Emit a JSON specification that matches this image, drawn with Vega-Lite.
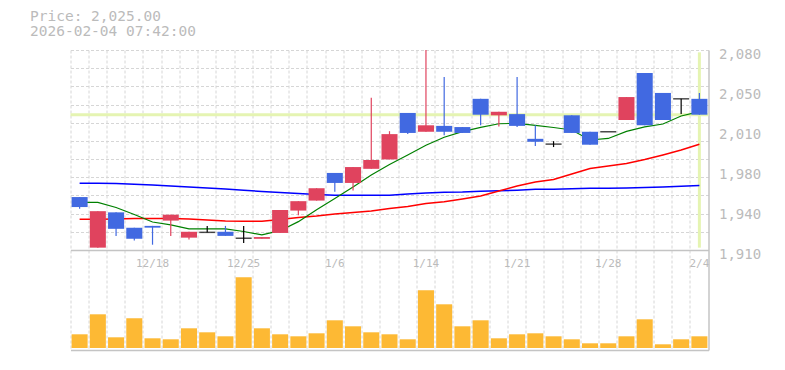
{
  "$schema": "https://vega.github.io/schema/vega-lite/v6.json",
  "width": 638,
  "height": 300,
  "autosize": {"type": "none"},
  "padding": {"left": 70.5, "top": 50, "right": 76.5, "bottom": 20},
  "background": "white",
  "title": {
    "text": ["Price: 2,025.00", "2026-02-04 07:42:00"],
    "anchor": "start",
    "frame": "group",
    "dx": -40.5,
    "dy": 15,
    "offset": 9,
    "baseline": "bottom",
    "lineHeight": 15,
    "font": "DejaVu Sans Mono",
    "fontSize": 14.5,
    "fontWeight": "normal",
    "color": "#bbbbbb"
  },
  "config": {"view": {"stroke": null}},
  "data": {
    "values": [
      {"date": "12/12", "open": 1955, "high": 1955, "low": 1945, "close": 1946.5, "volume": 13700, "ma5": 1950.5, "ma25": 1936.1, "ma75": 1966.7},
      {"date": "12/15", "open": 1912, "high": 1943, "low": 1912, "close": 1943, "volume": 33700, "ma5": 1950.5, "ma25": 1936.1, "ma75": 1966.7},
      {"date": "12/16", "open": 1942, "high": 1942, "low": 1922, "close": 1928, "volume": 10700, "ma5": 1946.1, "ma25": 1936.4, "ma75": 1966.5},
      {"date": "12/17", "open": 1929, "high": 1929, "low": 1918, "close": 1919.5, "volume": 29700, "ma5": 1940.2, "ma25": 1936.8, "ma75": 1965.8},
      {"date": "12/18", "open": 1930.5, "high": 1930.5, "low": 1914.5, "close": 1929, "volume": 9700, "ma5": 1933.8, "ma25": 1936.8, "ma75": 1965.3},
      {"date": "12/19", "open": 1935, "high": 1940, "low": 1922, "close": 1940, "volume": 8700, "ma5": 1931.3, "ma25": 1936.8, "ma75": 1964.4},
      {"date": "12/22", "open": 1920.5, "high": 1925.5, "low": 1919, "close": 1925.5, "volume": 19700, "ma5": 1927.9, "ma25": 1936.4, "ma75": 1963.6},
      {"date": "12/23", "open": 1925, "high": 1930.5, "low": 1925, "close": 1925, "volume": 15700, "ma5": 1927.9, "ma25": 1935.5, "ma75": 1962.7},
      {"date": "12/24", "open": 1925.5, "high": 1930.5, "low": 1922, "close": 1922, "volume": 11700, "ma5": 1927.9, "ma25": 1934.7, "ma75": 1961.9},
      {"date": "12/25", "open": 1920, "high": 1930.5, "low": 1916, "close": 1920, "volume": 70700, "ma5": 1925.7, "ma25": 1934.5, "ma75": 1960.8},
      {"date": "12/26", "open": 1919.5, "high": 1921, "low": 1919.5, "close": 1921, "volume": 19700, "ma5": 1922.8, "ma25": 1934.5, "ma75": 1959.7},
      {"date": "12/29", "open": 1924.5, "high": 1944, "low": 1924.5, "close": 1944, "volume": 13700, "ma5": 1926.4, "ma25": 1935.9, "ma75": 1958.9},
      {"date": "12/30", "open": 1943.5, "high": 1951.5, "low": 1939.5, "close": 1951.5, "volume": 11700, "ma5": 1934.1, "ma25": 1937.6, "ma75": 1958.0},
      {"date": "1/5", "open": 1952, "high": 1962.5, "low": 1952, "close": 1962.5, "volume": 14700, "ma5": 1944.3, "ma25": 1938.9, "ma75": 1957.2},
      {"date": "1/6", "open": 1975.5, "high": 1975.5, "low": 1959.5, "close": 1967, "volume": 27700, "ma5": 1953.8, "ma25": 1940.6, "ma75": 1956.6},
      {"date": "1/7", "open": 1967, "high": 1980.5, "low": 1960.5, "close": 1980.5, "volume": 21700, "ma5": 1963.6, "ma25": 1941.9, "ma75": 1956.5},
      {"date": "1/8", "open": 1979, "high": 2039.5, "low": 1979, "close": 1986.5, "volume": 15700, "ma5": 1973.8, "ma25": 1943.2, "ma75": 1956.5},
      {"date": "1/9", "open": 1987, "high": 2011, "low": 1987, "close": 2008.5, "volume": 13700, "ma5": 1982.7, "ma25": 1945.3, "ma75": 1956.6},
      {"date": "1/13", "open": 2026.5, "high": 2026.5, "low": 2008.5, "close": 2009.5, "volume": 8700, "ma5": 1990.8, "ma25": 1947.0, "ma75": 1957.6},
      {"date": "1/14", "open": 2010.5, "high": 2080, "low": 2010.5, "close": 2016, "volume": 57700, "ma5": 1999.0, "ma25": 1949.5, "ma75": 1958.5},
      {"date": "1/15", "open": 2015.5, "high": 2057, "low": 2007.5, "close": 2010.5, "volume": 43700, "ma5": 2005.8, "ma25": 1951.1, "ma75": 1959.1},
      {"date": "1/16", "open": 2014.5, "high": 2014.5, "low": 2009.5, "close": 2009.5, "volume": 21700, "ma5": 2010.6, "ma25": 1953.4, "ma75": 1959.3},
      {"date": "1/19", "open": 2038.5, "high": 2038.5, "low": 2016, "close": 2025, "volume": 27700, "ma5": 2014.3, "ma25": 1955.9, "ma75": 1959.9},
      {"date": "1/20", "open": 2024.5, "high": 2027.5, "low": 2015, "close": 2027.5, "volume": 9700, "ma5": 2017.3, "ma25": 1960.2, "ma75": 1960.3},
      {"date": "1/21", "open": 2025.5, "high": 2057, "low": 2014.5, "close": 2015.5, "volume": 13700, "ma5": 2017.7, "ma25": 1964.4, "ma75": 1960.8},
      {"date": "1/22", "open": 2004.5, "high": 2016, "low": 1998.5, "close": 2002, "volume": 14700, "ma5": 2016.0, "ma25": 1967.8, "ma75": 1961.6},
      {"date": "1/23", "open": 2000, "high": 2002.5, "low": 1997.5, "close": 2000, "volume": 11700, "ma5": 2014.1, "ma25": 1969.9, "ma75": 1961.6},
      {"date": "1/26", "open": 2024.5, "high": 2024.5, "low": 2009.5, "close": 2009.5, "volume": 8700, "ma5": 2012.0, "ma25": 1974.6, "ma75": 1962.0},
      {"date": "1/27", "open": 2010.5, "high": 2010.5, "low": 1999.5, "close": 1999.5, "volume": 4700, "ma5": 2003.5, "ma25": 1979.3, "ma75": 1962.5},
      {"date": "1/28", "open": 2010.5, "high": 2010.5, "low": 2010.5, "close": 2010.5, "volume": 4700, "ma5": 2004.8, "ma25": 1981.4, "ma75": 1962.5},
      {"date": "1/29", "open": 2020.5, "high": 2040, "low": 2020.5, "close": 2040, "volume": 11700, "ma5": 2010.8, "ma25": 1983.5, "ma75": 1962.7},
      {"date": "1/30", "open": 2060.5, "high": 2060.5, "low": 2016, "close": 2016, "volume": 28700, "ma5": 2014.6, "ma25": 1986.9, "ma75": 1963.1},
      {"date": "2/2", "open": 2043.5, "high": 2043.5, "low": 2020.5, "close": 2020.5, "volume": 3700, "ma5": 2017.1, "ma25": 1990.8, "ma75": 1963.6},
      {"date": "2/3", "open": 2038.5, "high": 2038.5, "low": 2025.5, "close": 2038.5, "volume": 8700, "ma5": 2023.9, "ma25": 1995.0, "ma75": 1964.2},
      {"date": "2/4", "open": 2038.5, "high": 2043.5, "low": 2025, "close": 2025, "volume": 11700, "ma5": 2027.6, "ma25": 1999.9, "ma75": 1964.8}
    ]
  },
  "layer": [
    {
      "layer": [
        {
          "transform": [{"filter": "datum.date == '2/4'"}],
          "mark": {"type": "rule", "color": "#e5f4b2", "strokeWidth": 3},
          "encoding": {
            "y": {
              "field": "close", "type": "quantitative",
              "scale": {"domain": [1825, 2080], "nice": false, "zero": false},
              "axis": {
                "orient": "right",
                "values": [1910, 1925.4545, 1940.9091, 1956.3636, 1971.8182, 1987.2727, 2002.7273, 2018.1818, 2033.6364, 2049.0909, 2064.5455, 2080],
                "grid": true, "gridColor": "#d6d6d6", "gridDash": [3, 2], "gridWidth": 1,
                "labels": false, "ticks": false, "domain": false, "title": null
              }
            }
          }
        },
        {
          "transform": [{"filter": "datum.date == '2/4'"}],
          "mark": {"type": "rule", "color": "#e5f4b2", "strokeWidth": 3},
          "encoding": {
            "x": {"field": "date", "type": "nominal", "sort": null, "axis": null},
            "y": {"datum": 2078, "type": "quantitative", "axis": null},
            "y2": {"datum": 1912}
          }
        },
        {
          "mark": {"type": "line", "color": "#0000ff", "strokeWidth": 1.5},
          "encoding": {
            "x": {"field": "date", "type": "nominal", "sort": null, "axis": null},
            "y": {"field": "ma75", "type": "quantitative", "axis": null}
          }
        },
        {
          "mark": {"type": "line", "color": "#ff0000", "strokeWidth": 1.5},
          "encoding": {
            "x": {"field": "date", "type": "nominal", "sort": null, "axis": null},
            "y": {"field": "ma25", "type": "quantitative", "axis": null}
          }
        },
        {
          "mark": {"type": "line", "color": "#008000", "strokeWidth": 1.2},
          "encoding": {
            "x": {"field": "date", "type": "nominal", "sort": null, "axis": null},
            "y": {"field": "ma5", "type": "quantitative", "axis": null}
          }
        },
        {
          "mark": {"type": "rule", "strokeWidth": 1.2},
          "encoding": {
            "x": {
              "field": "date", "type": "nominal", "sort": null,
              "scale": {
                "domain": ["12/12","12/15","12/16","12/17","12/18","12/19","12/22","12/23","12/24","12/25","12/26","12/29","12/30","1/5","1/6","1/7","1/8","1/9","1/13","1/14","1/15","1/16","1/19","1/20","1/21","1/22","1/23","1/26","1/27","1/28","1/29","1/30","2/2","2/3","2/4"],
                "paddingInner": 0, "paddingOuter": 0
              },
              "axis": {
                "orient": "bottom", "offset": -100,
                "values": ["12/18", "12/25", "1/6", "1/14", "1/21", "1/28", "2/4"],
                "bandPosition": 0.5,
                "grid": false, "ticks": false, "domain": true, "domainColor": "#c4c4c4", "domainWidth": 1.5,
                "labelFont": "DejaVu Sans Mono", "labelFontSize": 11, "labelColor": "#bbbbbb",
                "labelAngle": 0, "labelPadding": 7, "labelOverlap": false, "labelFlush": false, "title": null
              }
            },
            "y": {
              "field": "low", "type": "quantitative",
              "axis": {
                "orient": "right",
                "values": [1910, 1944, 1978, 2012, 2046, 2080],
                "labelExpr": "format(round(datum.value / 10) * 10, ',')",
                "grid": false, "ticks": false, "domain": true, "domainColor": "#c4c4c4", "domainWidth": 1.5,
                "labelFont": "DejaVu Sans Mono", "labelFontSize": 14, "labelColor": "#bbbbbb",
                "labelPadding": 10, "labelOffset": 4, "labelOverlap": false, "labelFlush": false, "title": null
              }
            },
            "y2": {"field": "high"},
            "color": {
              "condition": [
                {"test": "datum.close == datum.open", "value": "#000000"},
                {"test": "datum.close > datum.open", "value": "#e0435e"}
              ],
              "value": "#4169e1"
            }
          }
        },
        {
          "mark": {"type": "bar", "width": {"band": 0.88}},
          "encoding": {
            "x": {"field": "date", "type": "nominal", "sort": null, "axis": null},
            "y": {"field": "open", "type": "quantitative", "axis": null},
            "y2": {"field": "close"},
            "color": {
              "condition": {"test": "datum.close > datum.open", "value": "#e0435e"},
              "value": "#4169e1"
            }
          }
        },
        {
          "transform": [{"filter": "datum.open == datum.close"}],
          "mark": {"type": "tick", "color": "#000000", "thickness": 1.5, "size": 16},
          "encoding": {
            "x": {"field": "date", "type": "nominal", "sort": null, "axis": null},
            "y": {"field": "open", "type": "quantitative", "axis": null}
          }
        }
      ],
      "resolve": {"axis": {"x": "independent", "y": "independent"}}
    },
    {
      "mark": {"type": "bar", "width": {"band": 0.88}, "color": "#fdb934"},
      "encoding": {
        "x": {
          "field": "date", "type": "nominal", "sort": null,
          "axis": {
            "orient": "bottom", "bandPosition": 0,
            "grid": true, "gridColor": "#d6d6d6", "gridDash": [3, 2], "gridWidth": 1,
            "labels": false, "ticks": false, "domain": true, "domainColor": "#c4c4c4", "domainWidth": 1.5, "title": null
          }
        },
        "y": {
          "field": "volume", "type": "quantitative",
          "scale": {"domain": [-2000, 298000], "nice": false, "zero": false},
          "axis": null
        }
      }
    }
  ],
  "resolve": {"scale": {"y": "independent"}, "axis": {"x": "independent", "y": "independent"}}
}
